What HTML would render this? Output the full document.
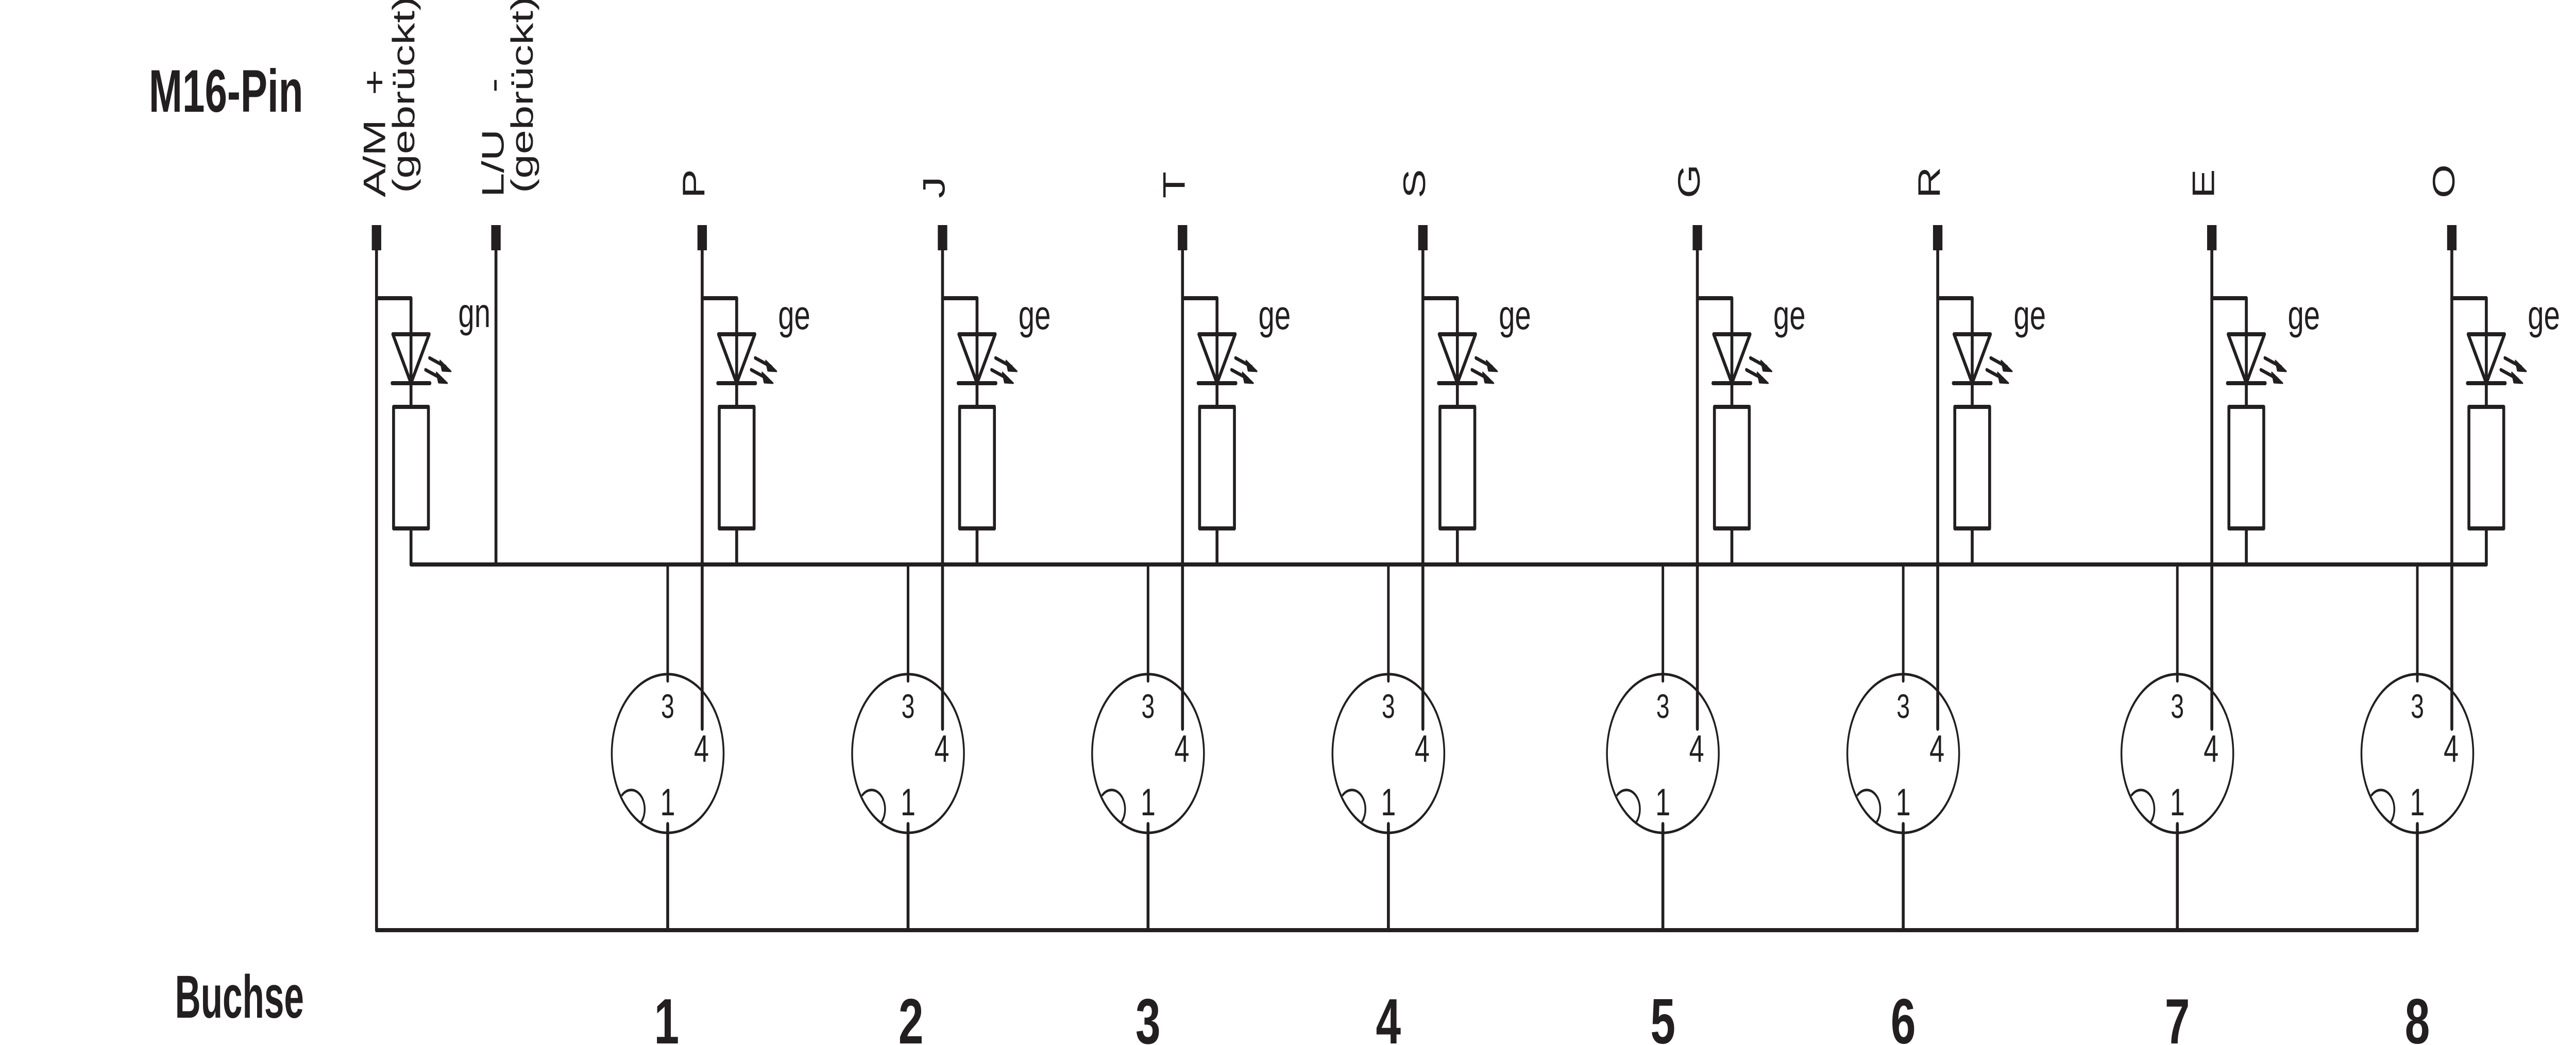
<!DOCTYPE html>
<html><head><meta charset="utf-8"><style>
html,body{margin:0;padding:0;background:#fff;overflow:hidden;width:100vw;height:100vh}
svg{display:block;width:100vw;height:100vh}
text{font-family:"Liberation Sans",sans-serif;fill:#231f20}
</style></head><body>
<svg viewBox="0 0 7095 2029" preserveAspectRatio="none" xmlns="http://www.w3.org/2000/svg">
<defs>
<g id="led" stroke="#231f20" stroke-width="8" fill="none" stroke-linecap="round" stroke-linejoin="round">
  <polyline points="-95,579 0,579 0,1096"/>
  <polygon points="-50,649 50,649 0,744" fill="#fff"/>
  <line x1="0" y1="649" x2="0" y2="744"/>
  <line x1="-52" y1="744" x2="52" y2="744"/>
  <rect x="-48" y="790" width="96" height="236" fill="#fff"/>
  <line x1="51" y1="695" x2="95" y2="712" stroke-width="7"/>
  <polygon points="110,721 80,700 86,720" fill="#231f20" stroke-width="3"/>
  <line x1="40" y1="718" x2="84" y2="735" stroke-width="7"/>
  <polygon points="100,744 70,723 76,743" fill="#231f20" stroke-width="3"/>
</g>
<g id="conn">
  <circle cx="0" cy="1463" r="154" fill="none" stroke="#231f20" stroke-width="5"/>
  <path d="M -127 1545 A 32 32 0 1 1 -74 1597" fill="none" stroke="#231f20" stroke-width="5"/>
  <line x1="0" y1="1096" x2="0" y2="1322" stroke="#231f20" stroke-width="7" stroke-linecap="round"/>
  <line x1="0" y1="1600" x2="0" y2="1806" stroke="#231f20" stroke-width="8" stroke-linecap="round"/>
  <line x1="95" y1="486" x2="95" y2="1415" stroke="#231f20" stroke-width="8" stroke-linecap="round"/>
  <rect x="82" y="437" width="26" height="49" fill="#231f20"/>
  <text x="0" y="1394" font-size="66" text-anchor="middle">3</text>
  <text x="93" y="1479" font-size="74" text-anchor="middle">4</text>
  <text x="0" y="1583" font-size="74" text-anchor="middle">1</text>
  <text x="304" y="639" font-size="80">ge</text>
</g>
</defs>

<text x="410" y="217" font-size="117" font-weight="bold" textLength="425" lengthAdjust="spacingAndGlyphs">M16-Pin</text>
<text x="482" y="1976" font-size="118" font-weight="bold" textLength="355" lengthAdjust="spacingAndGlyphs">Buchse</text>

<g stroke="#231f20" stroke-width="8" fill="none" stroke-linecap="round">
  <line x1="1132" y1="1096" x2="6848" y2="1096"/>
  <line x1="1037" y1="1806" x2="6658" y2="1806"/>
  <line x1="1037" y1="486" x2="1037" y2="1806"/>
  <line x1="1366" y1="486" x2="1366" y2="1096"/>
</g>
<rect x="1024" y="437" width="26" height="49" fill="#231f20"/>
<rect x="1353" y="437" width="26" height="49" fill="#231f20"/>

<use href="#led" transform="translate(1132,0)"/>
<text x="1262" y="635" font-size="80">gn</text>

<text transform="translate(1061,383) rotate(-90)" font-size="85" xml:space="preserve">A/M  +</text>
<text transform="translate(1141,375) rotate(-90)" font-size="85">(gebrückt)</text>
<text transform="translate(1387,383) rotate(-90)" font-size="85" xml:space="preserve">L/U   -</text>
<text transform="translate(1467,375) rotate(-90)" font-size="85">(gebrückt)</text>

<use href="#conn" transform="translate(1839,0)"/><use href="#led" transform="translate(2029,0)"/>
<use href="#conn" transform="translate(2501,0)"/><use href="#led" transform="translate(2691,0)"/>
<use href="#conn" transform="translate(3162,0)"/><use href="#led" transform="translate(3352,0)"/>
<use href="#conn" transform="translate(3824,0)"/><use href="#led" transform="translate(4014,0)"/>
<use href="#conn" transform="translate(4580,0)"/><use href="#led" transform="translate(4770,0)"/>
<use href="#conn" transform="translate(5242,0)"/><use href="#led" transform="translate(5432,0)"/>
<use href="#conn" transform="translate(5997,0)"/><use href="#led" transform="translate(6187,0)"/>
<use href="#conn" transform="translate(6658,0)"/><use href="#led" transform="translate(6848,0)"/>

<g font-size="85">
<text transform="translate(1940,385) rotate(-90)">P</text>
<text transform="translate(2602,385) rotate(-90)">J</text>
<text transform="translate(3263,385) rotate(-90)">T</text>
<text transform="translate(3925,385) rotate(-90)">S</text>
<text transform="translate(4681,385) rotate(-90)">G</text>
<text transform="translate(5343,385) rotate(-90)">R</text>
<text transform="translate(6098,385) rotate(-90)">E</text>
<text transform="translate(6760,385) rotate(-90)">O</text>
</g>

<g font-size="124" font-weight="bold" text-anchor="middle">
<text x="1836" y="2026">1</text>
<text x="2509" y="2026">2</text>
<text x="3162" y="2026">3</text>
<text x="3824" y="2026">4</text>
<text x="4580" y="2026">5</text>
<text x="5242" y="2026">6</text>
<text x="5997" y="2026">7</text>
<text x="6658" y="2026">8</text>
</g>
</svg>
</body></html>
